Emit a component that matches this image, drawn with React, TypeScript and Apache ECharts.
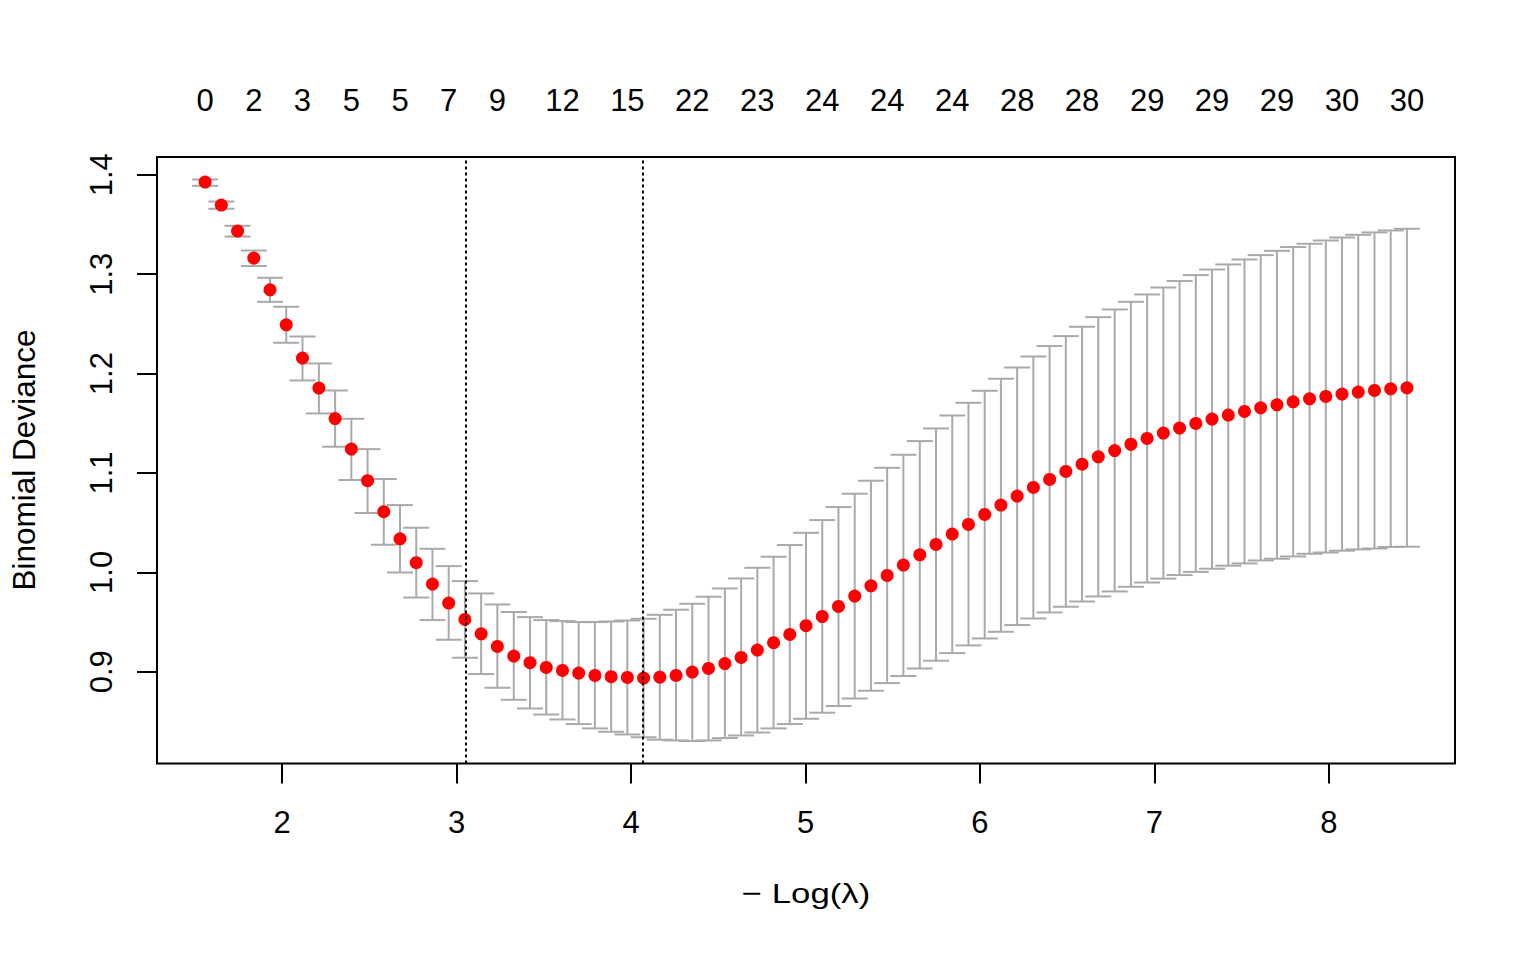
import React, { useEffect, useRef } from "react";
import * as echarts from "echarts";

// -Log(lambda) for each fitted lambda
const logLambda = [
  1.559, 1.652, 1.745, 1.838, 1.931, 2.024, 2.117, 2.211, 2.304, 2.397,
  2.49, 2.583, 2.676, 2.769, 2.862, 2.955, 3.048, 3.141, 3.234, 3.328,
  3.421, 3.514, 3.607, 3.7, 3.793, 3.886, 3.979, 4.072, 4.165, 4.258,
  4.351, 4.444, 4.538, 4.631, 4.724, 4.817, 4.91, 5.003, 5.096, 5.189,
  5.282, 5.375, 5.468, 5.561, 5.655, 5.748, 5.841, 5.934, 6.027, 6.12,
  6.213, 6.306, 6.399, 6.492, 6.585, 6.678, 6.772, 6.865, 6.958, 7.051,
  7.144, 7.237, 7.33, 7.423, 7.516, 7.609, 7.702, 7.795, 7.889, 7.982,
  8.075, 8.168, 8.261, 8.354, 8.447,
];

// mean cross-validated binomial deviance
const cvm = [
  1.3927, 1.3695, 1.3434, 1.3162, 1.2843, 1.2491, 1.2156, 1.1854, 1.1548, 1.124,
  1.0922, 1.061, 1.0338, 1.0097, 0.9882, 0.9691, 0.9526, 0.9382, 0.9255, 0.9158,
  0.9091, 0.9043, 0.9013, 0.8987, 0.8963, 0.895, 0.8943, 0.8937, 0.8945, 0.8963,
  0.8997, 0.9033, 0.9083, 0.9144, 0.9218, 0.9292, 0.9375, 0.9463, 0.9556, 0.9657,
  0.9762, 0.9865, 0.9969, 1.0073, 1.0177, 1.0281, 1.0385, 1.0482, 1.0583, 1.0677,
  1.0768, 1.0854, 1.0935, 1.1015, 1.1089, 1.1163, 1.1226, 1.1289, 1.1347, 1.1401,
  1.1452, 1.1498, 1.1542, 1.1582, 1.1619, 1.1656, 1.1686, 1.1716, 1.1746, 1.177,
  1.1794, 1.1814, 1.183, 1.1847, 1.1857,
];

// upper error bar
const cvup = [
  1.3953, 1.3731, 1.3487, 1.3238, 1.2964, 1.2672, 1.2373, 1.2102, 1.183, 1.1545,
  1.124, 1.0939, 1.0677, 1.0449, 1.0237, 1.0063, 0.9912, 0.9788, 0.9677, 0.9601,
  0.955, 0.952, 0.951, 0.95, 0.95, 0.9506, 0.9516, 0.9533, 0.9573, 0.9624,
  0.9684, 0.9755, 0.9838, 0.9939, 1.0046, 1.0157, 1.0275, 1.0398, 1.0526, 1.0657,
  1.0791, 1.0922, 1.1052, 1.1183, 1.1321, 1.1448, 1.1578, 1.1706, 1.1827, 1.1948,
  1.2061, 1.2172, 1.2277, 1.2377, 1.2471, 1.2568, 1.2645, 1.2722, 1.2796, 1.2866,
  1.2931, 1.2991, 1.3047, 1.3098, 1.3148, 1.3192, 1.3235, 1.3273, 1.3306, 1.3339,
  1.3369, 1.3396, 1.342, 1.344, 1.3457,
];

// lower error bar
const cvlo = [
  1.3889, 1.3658, 1.3379, 1.3082, 1.2722, 1.231, 1.1931, 1.1599, 1.1264, 1.0929,
  1.0597, 1.0278, 0.9999, 0.9747, 0.952, 0.9322, 0.9141, 0.8977, 0.8839, 0.8718,
  0.8631, 0.857, 0.852, 0.8474, 0.843, 0.8396, 0.8369, 0.8341, 0.8317, 0.8309,
  0.8303, 0.8309, 0.8333, 0.8359, 0.8389, 0.843, 0.8474, 0.8527, 0.8588, 0.8655,
  0.8731, 0.8809, 0.8886, 0.8957, 0.9033, 0.9111, 0.9188, 0.9265, 0.9335, 0.9402,
  0.947, 0.9536, 0.9597, 0.9654, 0.9707, 0.9758, 0.9808, 0.9855, 0.9898, 0.9937,
  0.9973, 1.0005, 1.0037, 1.0067, 1.009, 1.012, 1.0137, 1.016, 1.0187, 1.02,
  1.0218, 1.0231, 1.024, 1.0255, 1.0258,
];

// number of non-zero coefficients shown on the top axis
const nzIndex = [0, 3, 6, 9, 12, 15, 18, 22, 26, 30, 34, 38, 42, 46, 50, 54, 58, 62, 66, 70, 74];
const nzLabels = ["0", "2", "3", "5", "5", "7", "9", "12", "15", "22", "23", "24", "24", "24", "28", "28", "29", "29", "29", "30", "30"];

const xTicks = [2, 3, 4, 5, 6, 7, 8];
const yTicks = [0.9, 1.0, 1.1, 1.2, 1.3, 1.4];

const idx1se = 16;
const idxMin = 27;

const FONT = "'Liberation Sans', Arial, Helvetica, sans-serif";
const FS = 31;

export default function App() {
  const ref = useRef<HTMLDivElement>(null);

  useEffect(() => {
    document.body.style.margin = "0";
    const chart = echarts.init(ref.current as HTMLDivElement, null, { renderer: "svg" });

    const xMin = 1.2832;
    const xMax = 8.7225;
    const yMin = 0.8077;
    const yMax = 1.4179;

    const topX = nzIndex.map((i) => logLambda[i]);

    const option: any = {
      animation: false,
      backgroundColor: "#ffffff",
      grid: {
        left: 157,
        right: 81,
        top: 157,
        bottom: 196.5,
        show: true,
        borderColor: "#000",
        borderWidth: 2,
        backgroundColor: "transparent",
      },
      xAxis: [
        {
          type: "value",
          position: "bottom",
          min: xMin,
          max: xMax,
          axisLine: { show: false, onZero: false },
          splitLine: { show: false },
          axisTick: {
            show: true,
            length: 20,
            customValues: xTicks,
            lineStyle: { color: "#000", width: 2 },
          },
          axisLabel: {
            customValues: xTicks,
            fontSize: FS,
            fontFamily: FONT,
            color: "#000",
            margin: 43,
            formatter: (v: number) => String(Math.round(v)),
          },
        },
        {
          type: "value",
          position: "top",
          min: xMin,
          max: xMax,
          axisLine: { show: false, onZero: false },
          splitLine: { show: false },
          axisTick: { show: false },
          axisLabel: {
            customValues: topX,
            fontSize: FS,
            fontFamily: FONT,
            color: "#000",
            margin: 41,
            formatter: (v: number) => {
              let best = 0;
              let bd = Infinity;
              topX.forEach((t, i) => {
                const d = Math.abs(t - v);
                if (d < bd) {
                  bd = d;
                  best = i;
                }
              });
              return nzLabels[best];
            },
          },
        },
      ],
      yAxis: {
        type: "value",
        min: yMin,
        max: yMax,
        axisLine: { show: false, onZero: false },
        splitLine: { show: false },
        axisTick: {
          show: true,
          length: 20,
          customValues: yTicks,
          lineStyle: { color: "#000", width: 2 },
        },
        axisLabel: {
          customValues: yTicks,
          rotate: 90,
          fontSize: FS,
          fontFamily: FONT,
          color: "#000",
          margin: 40,
          formatter: (v: number) => v.toFixed(1),
        },
      },
      graphic: [
        {
          type: "text",
          x: 24,
          y: 460,
          rotation: Math.PI / 2,
          style: {
            text: "Binomial Deviance",
            fontSize: 31.5,
            fontFamily: FONT,
            fill: "#000",
            align: "center",
            verticalAlign: "middle",
            textAlign: "center",
            textVerticalAlign: "middle",
          },
        },
        {
          type: "text",
          x: 806,
          y: 893,
          scaleX: 1.22,
          style: {
            text: "\u2212 Log(\u03bb)",
            fontSize: 28.5,
            fontFamily: FONT,
            fill: "#000",
            align: "center",
            verticalAlign: "middle",
            textAlign: "center",
            textVerticalAlign: "middle",
          },
        },
      ],
      series: [
        {
          type: "custom",
          xAxisIndex: 0,
          yAxisIndex: 0,
          z: 1,
          silent: true,
          encode: { x: 0, y: [1, 2] },
          data: logLambda.map((x, i) => [x, cvlo[i], cvup[i]]),
          renderItem: (_params: any, api: any) => {
            const x = api.value(0);
            const pLo = api.coord([x, api.value(1)]);
            const pHi = api.coord([x, api.value(2)]);
            const hw = 13;
            const style = { stroke: "#A9A9A9", lineWidth: 2 };
            return {
              type: "group",
              children: [
                { type: "line", shape: { x1: pLo[0], y1: pLo[1], x2: pHi[0], y2: pHi[1] }, style },
                { type: "line", shape: { x1: pLo[0] - hw, y1: pLo[1], x2: pLo[0] + hw, y2: pLo[1] }, style },
                { type: "line", shape: { x1: pHi[0] - hw, y1: pHi[1], x2: pHi[0] + hw, y2: pHi[1] }, style },
              ],
            };
          },
        },
        {
          type: "scatter",
          xAxisIndex: 0,
          yAxisIndex: 0,
          z: 2,
          silent: true,
          symbol: "circle",
          symbolSize: 13,
          itemStyle: { color: "#FF0000", opacity: 1 },
          data: logLambda.map((x, i) => [x, cvm[i]]),
        },
        {
          type: "scatter",
          xAxisIndex: 0,
          yAxisIndex: 0,
          z: 5,
          silent: true,
          data: [],
          markLine: {
            silent: true,
            symbol: ["none", "none"],
            label: { show: false },
            lineStyle: { color: "#000", width: 2, type: [3, 3] },
            data: [{ xAxis: logLambda[idx1se] }, { xAxis: logLambda[idxMin] }],
          },
        },
      ],
    };

    chart.setOption(option);
    return () => {
      chart.dispose();
    };
  }, []);

  return (
    <div
      ref={ref}
      style={{ position: "absolute", left: 0, top: 0, width: 1536, height: 960, background: "#fff" }}
    />
  );
}
